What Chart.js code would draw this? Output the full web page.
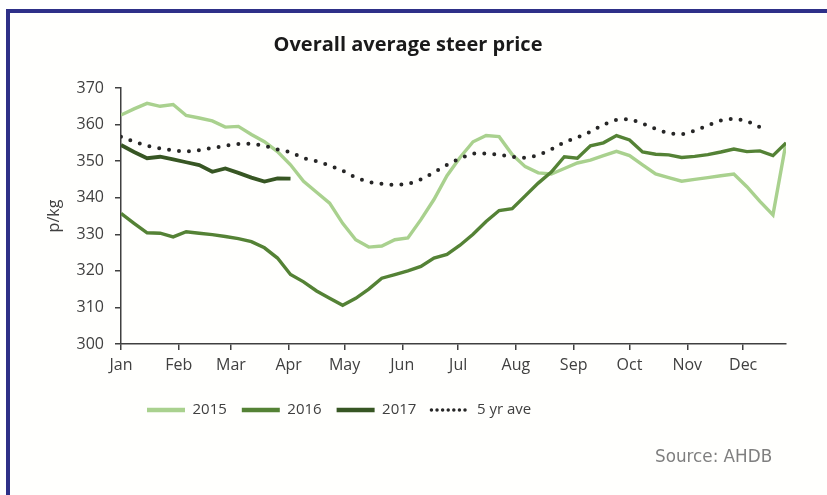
<!DOCTYPE html>
<html><head><meta charset="utf-8">
<script src="https://cdn.jsdelivr.net/npm/chart.js@4.4.1/dist/chart.umd.min.js"></script>
<style>
html,body{margin:0;padding:0;background:#fff;width:827px;height:495px;overflow:hidden;}
#frame{position:absolute;left:6px;top:9px;width:900px;height:600px;border:4px solid #2e3088;box-sizing:border-box;background:#fffffd;}
#wrap{position:absolute;left:0;top:0;width:827px;height:495px;}
#source{position:absolute;left:655px;top:446px;font-family:'DejaVu Sans',sans-serif;font-size:16.8px;color:#7f7f7f;}
</style></head><body>
<div id="frame"></div>
<div id="wrap"><canvas id="c" width="827" height="495"></canvas></div>
<div id="source">Source: AHDB</div>
<script>
const monthNames = ['Jan','Feb','Mar','Apr','May','Jun','Jul','Aug','Sep','Oct','Nov','Dec'];
const monthStartDays = [0,31,59,90,120,151,181,212,243,273,304,334];
const seriesNames = ['2015','2016','2017','5 yr ave'];

const price2015 = [362.6,364.3,365.8,365.0,365.5,362.5,361.8,361.0,359.3,359.5,
  357.3,355.3,352.6,349.0,344.5,341.5,338.5,333.0,328.5,326.5,
  326.8,328.5,329.0,334.0,339.5,346.0,351.0,355.3,357.0,356.7,
  351.8,348.5,346.8,346.5,348.0,349.5,350.3,351.5,352.7,351.5,
  349.0,346.5,345.5,344.5,345.0,345.5,346.0,346.5,343.0,339.0,
  335.3,355.0];
const price2016 = [335.7,333.0,330.4,330.3,329.3,330.7,330.3,329.9,329.4,328.8,
  328.0,326.3,323.5,319.0,317.0,314.5,312.5,310.6,312.5,315.0,
  318.0,319.0,320.0,321.2,323.5,324.5,327.0,330.0,333.5,336.5,
  337.0,340.5,344.0,347.0,351.2,350.8,354.2,355.0,357.0,355.8,
  352.5,351.9,351.7,351.0,351.3,351.8,352.5,353.3,352.6,352.8,
  351.5,355.0];
const price2017 = [354.4,352.5,350.8,351.2,350.5,349.7,348.9,347.1,348.0,346.8,
  345.5,344.4,345.3,345.2];
const price5yr = [356.7,355.3,354.2,353.5,352.9,352.6,353.0,353.6,354.2,354.7,
  354.8,354.2,353.2,352.5,350.8,350.0,348.8,347.4,345.5,344.3,
  343.8,343.5,343.7,345.0,346.9,349.0,350.8,352.1,352.1,351.8,
  351.2,350.9,351.6,353.2,355.2,356.5,358.0,360.0,361.3,361.5,
  360.3,358.8,357.6,357.3,358.3,359.8,361.1,361.7,361.0,359.3];
const yMin = 300, yMax = 370, yStep = 10;

const toPoints = arr => arr.map((v, i) => ({x: i, y: v}));

Chart.defaults.font.family = "'Open Sans', sans-serif";
Chart.defaults.color = '#404040';

const legendShift = {
  id: 'legendShift',
  afterLayout(chart) {
    if (chart.legend) chart.legend.left = 132;
  }
};

new Chart(document.getElementById('c'), {
  type: 'line',
  data: {
    datasets: [
      {label: seriesNames[0], data: toPoints(price2015), borderColor: '#a9d18e', borderWidth: 3.4, order: 3},
      {label: seriesNames[1], data: toPoints(price2016), borderColor: '#548235', borderWidth: 3.4, order: 2},
      {label: seriesNames[2], data: toPoints(price2017), borderColor: '#375623', borderWidth: 3.8, order: 1},
      {label: seriesNames[3], data: toPoints(price5yr), borderColor: '#262626', borderWidth: 4,
        borderDash: [0, 10], borderCapStyle: 'round', order: 0}
    ]
  },
  options: {
    responsive: false,
    animation: false,
    layout: {padding: {left: 30, right: 41, top: 33, bottom: 67.5}},
    elements: {point: {radius: 0}, line: {tension: 0, fill: false}},
    plugins: {
      tooltip: {enabled: false},
      title: {
        display: true, text: 'Overall average steer price', color: '#1a1a1a',
        font: {size: 20, weight: 'bold'}, padding: {top: 0, bottom: 31}
      },
      legend: {
        position: 'bottom', align: 'start',
        labels: {
          usePointStyle: true, pointStyle: 'line', pointStyleWidth: 38,
          padding: 15, color: '#404040', font: {size: 15},
          sort: (a, b) => a.datasetIndex - b.datasetIndex,
          generateLabels(chart) {
            const items = Chart.defaults.plugins.legend.labels.generateLabels(chart);
            items.forEach(it => {
              if (it.datasetIndex === 3) { it.lineDash = [0, 5.6]; it.lineWidth = 3.5; it.lineCap = 'round'; }
              else { it.lineWidth = 4.5; }
            });
            return items;
          }
        }
      }
    },
    scales: {
      x: {
        type: 'linear', min: 0, max: 51,
        afterBuildTicks: s => { s.ticks = monthStartDays.map(d => ({value: d / 7})); },
        afterFit: s => { s.height = 43.5; },
        ticks: {
          autoSkip: false, maxRotation: 0, padding: 6, font: {size: 16}, color: '#404040',
          callback: (v, i) => monthNames[i]
        },
        grid: {drawOnChartArea: false, drawTicks: true, tickLength: 6, color: '#404040', lineWidth: 1.5},
        border: {display: true, color: '#404040', width: 1.5}
      },
      y: {
        min: yMin, max: yMax,
        afterFit: s => { s.width = 91; },
        ticks: {stepSize: yStep, padding: 11, font: {size: 16}, color: '#404040'},
        grid: {drawOnChartArea: false, drawTicks: true, tickLength: 6, color: '#404040', lineWidth: 1.5},
        border: {display: true, color: '#404040', width: 1.5},
        title: {display: true, text: 'p/kg', font: {size: 16}, color: '#404040', padding: {top: 15, bottom: 0}}
      }
    }
  },
  plugins: [legendShift]
});
</script>
</body></html>
